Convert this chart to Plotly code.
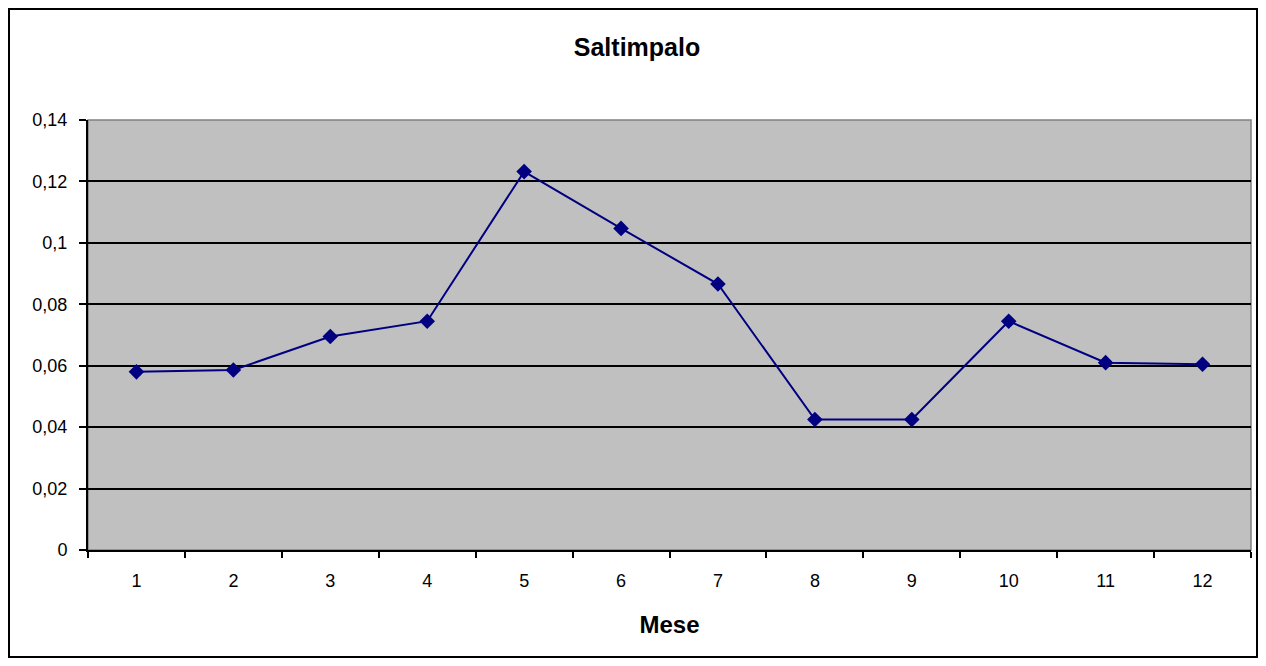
import plotly.graph_objects as go

months = ["1", "2", "3", "4", "5", "6", "7", "8", "9", "10", "11", "12"]
values = [0.0580, 0.0586, 0.0695, 0.0745, 0.1232, 0.1047, 0.0866, 0.0425, 0.0425, 0.0745, 0.0610, 0.0605]
title_text = "Saltimpalo"
x_title = "Mese"

# page has 8px body margin; figure coordinates = page coordinates - 8
OFF = 8
W, H = 1250, 650
L, R, T, B = 88 - OFF, 1251 - OFF, 120 - OFF, 550 - OFF

fig = go.Figure()
fig.add_trace(go.Scatter(
    x=months, y=values, mode="lines+markers",
    line=dict(color="#000080", width=2),
    marker=dict(symbol="diamond", size=12, color="#000080"),
    showlegend=False, cliponaxis=False,
))

pw, ph = R - L, B - T
def px(x): return (x - L) / pw
def py(y): return (B - y) / ph

fig.add_shape(type="rect", xref="paper", yref="paper",
              x0=px(1), x1=px(W - 1), y0=py(H - 1), y1=py(1),
              line=dict(color="black", width=2), fillcolor="rgba(0,0,0,0)", layer="below")
fig.add_shape(type="rect", xref="paper", yref="paper",
              x0=0, x1=1, y0=0, y1=1,
              line=dict(color="#808080", width=1.5), fillcolor="rgba(0,0,0,0)", layer="below")

fig.update_layout(
    width=W, height=H,
    margin=dict(l=L, r=W - R, t=T, b=H - B, pad=0),
    paper_bgcolor="white", plot_bgcolor="#C0C0C0",
    separators=",.",
    font=dict(family="Liberation Sans, Arial, sans-serif", size=18, color="black"),
    title=dict(text="<b>" + title_text + "</b>", x=(637 - OFF) / W, xanchor="center",
               y=1 - (47 - OFF) / H, yanchor="middle", font=dict(size=25)),
    xaxis=dict(type="category", range=[-0.5, len(months) - 0.5], tickson="boundaries",
               ticks="outside", ticklen=6,
               tickwidth=2, tickcolor="black", showline=True, linecolor="black",
               linewidth=2, showgrid=False, zeroline=False, ticklabelstandoff=13,
               title=dict(text="<b>" + x_title + "</b>", font=dict(size=24), standoff=27)),
    yaxis=dict(range=[0, 0.14], dtick=0.02, ticks="outside", ticklen=7,
               tickwidth=2, tickcolor="black", showline=True, linecolor="black",
               linewidth=2, showgrid=True, gridcolor="black", gridwidth=1.5,
               zeroline=False, ticklabelstandoff=8),
)

fig.write_html("out.html")
